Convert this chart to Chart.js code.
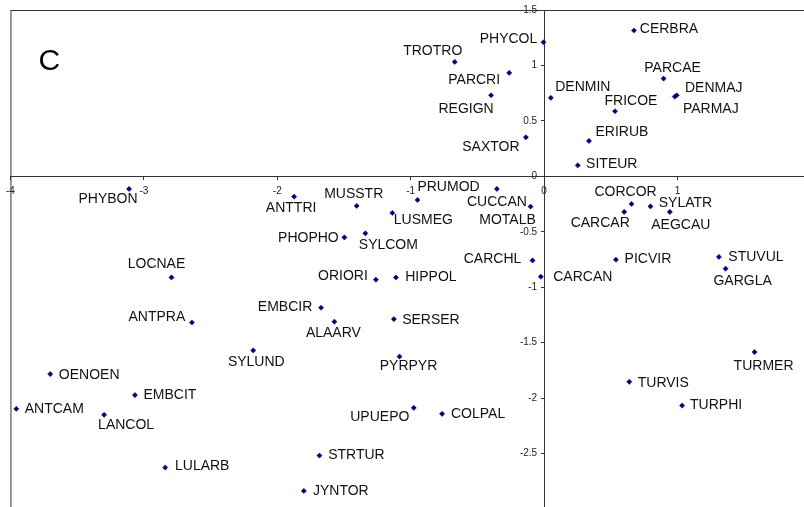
<!DOCTYPE html>
<html>
<head>
<meta charset="utf-8">
<script src="https://cdn.jsdelivr.net/npm/chart.js@4"></script>
<style>
  html, body { margin: 0; padding: 0; overflow: hidden; background: #fff; }
  #contenedor { width: 811px; height: 509px; }
</style>
</head>
<body>
<div id="contenedor"><canvas id="grafico" width="811" height="509"></canvas></div>
<script>
// especies y sus coordenadas en los dos ejes
const especies = [
  "PHYCOL", "TROTRO", "PARCRI", "REGIGN", "SAXTOR", "CERBRA", "PARCAE", "DENMAJ", "PARMAJ",
  "DENMIN", "FRICOE", "ERIRUB", "SITEUR", "PHYBON", "LOCNAE", "ANTPRA", "ANTTRI", "MUSSTR",
  "PRUMOD", "CUCCAN", "MOTALB", "LUSMEG", "SYLCOM", "PHOPHO", "CARCHL", "CARCAN", "ORIORI",
  "HIPPOL", "EMBCIR", "ALAARV", "SERSER", "CORCOR", "CARCAR", "SYLATR", "AEGCAU", "PICVIR",
  "STUVUL", "GARGLA", "SYLUND", "OENOEN", "EMBCIT", "ANTCAM", "LANCOL", "LULARB", "PYRPYR",
  "UPUEPO", "COLPAL", "STRTUR", "JYNTOR", "TURMER", "TURVIS", "TURPHI"
]
const valoresX = [
  -0.005, -0.670, -0.262, -0.398, -0.137, 0.673, 0.895, 0.994, 0.979,
  0.050, 0.531, 0.336, 0.252, -3.111, -2.793, -2.640, -1.874, -1.405,
  -0.949, -0.354, -0.102, -1.138, -1.340, -1.497, -0.087, -0.025, -1.261,
  -1.111, -1.672, -1.572, -1.126, 0.655, 0.600, 0.797, 0.942, 0.538,
  1.310, 1.360, -2.180, -3.702, -3.067, -3.956, -3.298, -2.840, -1.084,
  -0.977, -0.765, -1.684, -1.801, 1.577, 0.638, 1.034
]
const valoresY = [
  1.209, 1.032, 0.933, 0.731, 0.352, 1.315, 0.882, 0.731, 0.719,
  0.708, 0.587, 0.319, 0.099, -0.114, -0.912, -1.318, -0.183, -0.267,
  -0.213, -0.114, -0.273, -0.330, -0.514, -0.551, -0.758, -0.905, -0.932,
  -0.912, -1.185, -1.311, -1.287, -0.249, -0.321, -0.271, -0.321, -0.752,
  -0.727, -0.833, -1.570, -1.783, -1.973, -2.097, -2.151, -2.626, -1.625,
  -2.088, -2.142, -2.518, -2.837, -1.585, -1.853, -2.067
]
const ticksX = [-4, -3, -2, -1, 0, 1]
const ticksY = [1.5, 1, 0.5, 0, -0.5, -1, -1.5, -2, -2.5]

// donde va cada rotulo respecto a su punto (centro del texto, en px)
const desplazamiento = [
  [-35, -3], [-22, -11], [-35, 7], [-25, 14], [-35, 10], [35, -1], [9, -10], [37, -7], [36, 13],
  [32, -11], [16, -10], [33, -9], [34, -1], [-21, 10], [-15, -13], [-35, -5], [-3, 12], [-3, -12],
  [31, -13], [0, 13], [-23, 14], [31, 7], [23, 12], [-36, 1], [-40, -1], [42, 0], [-33, -4],
  [35, 0], [-36, -1], [-1, 11], [37, 1], [-6, -12], [-24, 11], [35, -3], [11, 13], [32, -1],
  [37, 0], [17, 12], [3, 12], [39, 1], [35, 0], [38, 0], [22, 10], [37, -1], [9, 10],
  [-34, 9], [36, 0], [37, 0], [37, 0], [9, 14], [34, 1], [34, 0]
]

const puntos = especies.map((nombre, i) => ({ x: valoresX[i], y: valoresY[i] }))

const fuente = '"Liberation Sans", Arial, sans-serif'

const rotulos = {
  id: "rotulos",
  beforeDatasetsDraw(chart) {
    const { ctx, chartArea } = chart
    ctx.save()
    ctx.strokeStyle = "#333"
    ctx.lineWidth = 1
    ctx.strokeRect(chartArea.left + 0.5, chartArea.top + 0.5, chartArea.width - 1, chartArea.height - 1)
    ctx.restore()
  },
  afterDatasetsDraw(chart) {
    const { ctx, chartArea, scales } = chart
    const meta = chart.getDatasetMeta(0)
    ctx.save()

    // numeros del eje y, a la izquierda del eje vertical
    ctx.fillStyle = "#222"
    ctx.font = "10px " + fuente
    ctx.textAlign = "right"
    ctx.textBaseline = "middle"
    const xCero = scales.x.getPixelForValue(0)
    ticksY.forEach((v) => ctx.fillText(String(v), xCero - 7, scales.y.getPixelForValue(v)))

    ctx.fillStyle = "#111"
    ctx.font = "14px " + fuente
    ctx.textAlign = "center"
    meta.data.forEach((punto, i) => {
      const [dx, dy] = desplazamiento[i]
      ctx.fillText(especies[i], punto.x + dx, punto.y + dy)
    })

    ctx.fillStyle = "#000"
    ctx.font = "30px " + fuente
    ctx.textAlign = "left"
    ctx.textBaseline = "alphabetic"
    ctx.fillText("C", chartArea.left + 28, chartArea.top + 60)
    ctx.restore()
  }
}

const ejeComun = {
  border: { color: "#333", width: 1 },
  grid: { display: true, drawOnChartArea: false, drawTicks: true, tickLength: 3, color: "#333" }
}

new Chart(document.getElementById("grafico"), {
  type: "scatter",
  data: {
    datasets: [{
      data: puntos,
      pointStyle: "rectRot",
      pointRadius: 2.6,
      backgroundColor: "#000080",
      borderColor: "#000080",
      borderWidth: 0.5
    }]
  },
  plugins: [rotulos],
  options: {
    responsive: false,
    animation: false,
    events: [],
    devicePixelRatio: 1,
    layout: { autoPadding: false, padding: { left: 8, top: 10, right: 0, bottom: 0 } },
    plugins: { legend: { display: false }, tooltip: { enabled: false } },
    scales: {
      x: {
        ...ejeComun,
        type: "linear",
        min: -4,
        max: 2,
        position: { y: 0 },
        afterBuildTicks: (escala) => { escala.ticks = ticksX.map((v) => ({ value: v })) },
        ticks: {
          color: "#222", font: { family: fuente, size: 10 }, padding: 6,
          maxRotation: 0, autoSkip: false, callback: (v) => String(v)
        }
      },
      y: {
        ...ejeComun,
        type: "linear",
        min: -3,
        max: 1.5,
        position: { x: 0 },
        afterBuildTicks: (escala) => { escala.ticks = ticksY.map((v) => ({ value: v })) },
        ticks: { display: false }
      }
    }
  }
})
</script>
</body>
</html>
